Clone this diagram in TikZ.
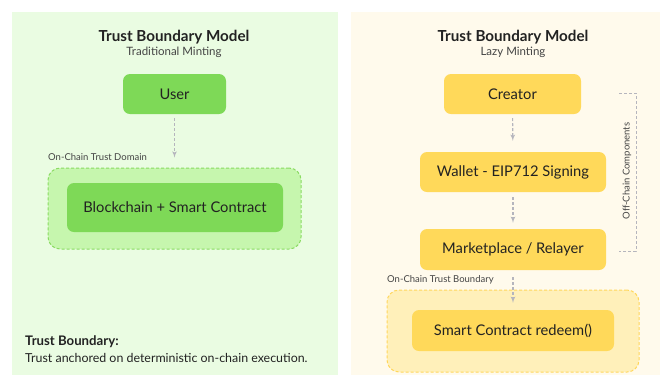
\documentclass[tikz,border=0pt]{standalone}
\usepackage{fontspec}
\setmainfont{Lato}
\usetikzlibrary{shapes,arrows,calc}
\definecolor{greenpanel}{HTML}{EAFCE2}
\definecolor{yellowpanel}{HTML}{FFFAEC}
\definecolor{greenbox}{HTML}{7ED957}
\definecolor{greenzone}{HTML}{C6F6AE}
\definecolor{greenedge}{HTML}{8ADB62}
\definecolor{yellowbox}{HTML}{FFD95A}
\definecolor{yellowzone}{HTML}{FFF0BA}
\definecolor{yellowedge}{HTML}{FFD75C}
\definecolor{arrowgray}{HTML}{B5B5BD}
\definecolor{textdark}{HTML}{222222}
\definecolor{textsoft}{HTML}{444444}
\tikzstyle{line} = [draw=arrowgray, dash pattern=on 3pt off 2pt, -latex', line width=1.1pt]
\tikzstyle{block} = [rectangle, rounded corners=7pt, text centered, text=textdark, font=\fontsize{14.7}{17}\selectfont]
\tikzstyle{zone} = [rectangle, rounded corners=12pt, dash pattern=on 3pt off 2pt, line width=1pt]
\tikzstyle{title} = [text=textdark, font=\fontsize{15.2}{18}\selectfont\bfseries]
\tikzstyle{subtitle} = [text=textsoft, font=\fontsize{11.5}{14}\selectfont]
\tikzstyle{tag} = [text=textsoft, inner sep=0pt, font=\fontsize{9.5}{11}\selectfont]

\begin{document}
\begin{tikzpicture}[x=1pt, y=-1pt]
        \useasboundingbox (0,0) rectangle (660,376);
        % two panels
        \fill[greenpanel] (12,12) rectangle (338,375);
        \fill[yellowpanel] (351,12) rectangle (660,375);

        % traditional minting
        \node[title] (ltitle) at (174,37) {Trust Boundary Model};
        \node[subtitle] (lsub) at (174,52) {Traditional Minting};
        \node[zone, draw=greenedge, fill=greenzone, minimum width=253pt, minimum height=81pt] (domain) at (174.5,208.5) {};
        \node[tag, anchor=west] (domainlabel) at (48,157) {On-Chain Trust Domain};
        \node[block, fill=greenbox, minimum width=103pt, minimum height=40pt] (user) at (174.5,94) {User};
        \node[block, fill=greenbox, minimum width=216pt, minimum height=49pt] (chain) at (175,207.5) {Blockchain + Smart Contract};
        \path[line, shorten <=4pt, shorten >=10pt] (user) -- (domain);
        \node[anchor=west, inner sep=0pt, text=textdark, font=\fontsize{13.2}{15}\selectfont\bfseries] (note) at (25,342) {Trust Boundary:};
        \node[anchor=west, inner sep=0pt, text=textdark, font=\fontsize{12.4}{15}\selectfont] (notetext) at (25,358) {Trust anchored on deterministic on-chain execution.};

        % lazy minting
        \node[title] (rtitle) at (513,37) {Trust Boundary Model};
        \node[subtitle] (rsub) at (513,52) {Lazy Minting};
        \node[zone, draw=yellowedge, fill=yellowzone, minimum width=252pt, minimum height=82pt] (boundary) at (513,331) {};
        \node[tag, anchor=west] (boundarylabel) at (387,280) {On-Chain Trust Boundary};
        \node[block, fill=yellowbox, minimum width=137pt, minimum height=40pt] (creator) at (512.5,94) {Creator};
        \node[block, fill=yellowbox, minimum width=186pt, minimum height=40pt] (wallet) at (513,172) {Wallet - EIP712 Signing};
        \node[block, fill=yellowbox, minimum width=186pt, minimum height=41pt] (market) at (513,249.5) {Marketplace / Relayer};
        \node[block, fill=yellowbox, minimum width=202pt, minimum height=41pt] (redeem) at (513,330.5) {Smart Contract redeem()};
        \path[line, shorten <=4pt, shorten >=11pt] (creator) -- (wallet);
        \path[line, shorten <=5pt, shorten >=6pt] (wallet) -- (market);
        \path[line, shorten <=7pt, shorten >=7pt] (market) -- (redeem);

        % off-chain bracket
        \coordinate (brtop) at (619,93);
        \coordinate (brbot) at (619,251);
        \draw[arrowgray, dash pattern=on 3pt off 2pt, line width=1pt] (brtop) -- ++(17,0) |- (brbot);
        \node[tag, rotate=90] (offchain) at (627,171) {Off-Chain Components};
    \end{tikzpicture}
\end{document}
